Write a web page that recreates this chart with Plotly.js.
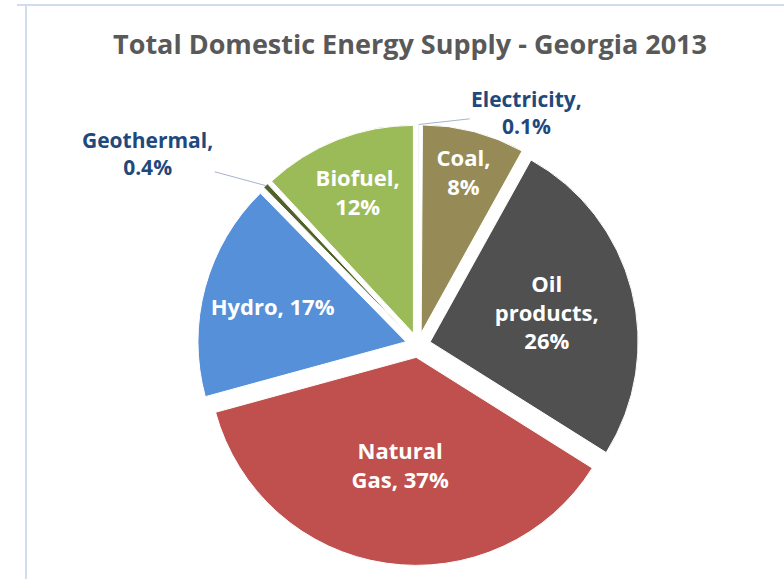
<!DOCTYPE html>
<html>
<head>
<meta charset="utf-8">
<script src="https://cdn.plot.ly/plotly-3.0.1.min.js"></script>
<style>html,body{margin:0;padding:0;background:#fff;}#chart{width:784px;height:579px;}</style>
</head>
<body>
<div id="chart"></div>
<script>
// ---- data ----
const categories = ["Electricity", "Coal", "Oil products", "Natural Gas", "Hydro", "Geothermal", "Biofuel"];
const values = [0.1, 8, 26, 37, 17, 0.4, 12];
const sliceLabels = ["", "Coal,<br>8%", "Oil<br>products,<br>26%", "Natural<br>Gas, 37%", "Hydro, 17%", "", "Biofuel,<br>12%"];
const outsideLabels = {0: "Electricity,<br>0.1%", 5: "Geothermal,<br>0.4%"};
const colors = ["#D9D9D9", "#968B56", "#505050", "#C0504D", "#5590D8", "#4F6228", "#9BBB59"];

// ---- layout geometry ----
const W = 784, H = 579;
const pull = 0.06;
const dom = {x: [197.5 / W, 638.5 / W], y: [(H - 565.5) / H, (H - 124.5) / H]};
const cx = (dom.x[0] + dom.x[1]) / 2 * W;
const cy = H - (dom.y[0] + dom.y[1]) / 2 * H;
const r = Math.min((dom.x[1] - dom.x[0]) * W, (dom.y[1] - dom.y[0]) * H) / (2 + 2 * pull);

const total = values.reduce((a, b) => a + b, 0);
function tipPoint(i) {
  let before = 0;
  for (let k = 0; k < i; k++) before += values[k];
  const mid = (before + values[i] / 2) / total * 2 * Math.PI;
  const rr = r * (1 + pull);
  return {x: (cx + rr * Math.sin(mid)) / W, y: 1 - (cy - rr * Math.cos(mid)) / H};
}
const FONT = "'Open Sans', 'Noto Sans', sans-serif";
const offsets = {0: [108, -12], 5: [-118, -32]};
const annotations = Object.keys(outsideLabels).map(k => {
  const p = tipPoint(+k);
  return {
    xref: "paper", yref: "paper", x: p.x, y: p.y,
    text: outsideLabels[k], showarrow: true, arrowhead: 0, arrowwidth: 1,
    arrowcolor: "#A6B4CC", ax: offsets[k][0], ay: offsets[k][1],
    font: {family: FONT, size: 21, color: "#1F497D", weight: "bold"},
    align: "center"
  };
});

const trace = {
  type: "pie",
  labels: categories,
  values: values,
  text: sliceLabels,
  textinfo: "text",
  textposition: "inside",
  insidetextorientation: "horizontal",
  insidetextfont: {family: FONT, size: 22, color: "#FFFFFF", weight: "bold"},
  sort: false,
  direction: "clockwise",
  rotation: 0,
  pull: values.map(() => pull),
  marker: {colors: colors, line: {color: "#FFFFFF", width: 1}},
  domain: dom,
  hoverinfo: "label+value"
};

const layout = {
  width: W, height: H,
  margin: {l: 0, r: 0, t: 0, b: 0},
  paper_bgcolor: "#FFFFFF",
  showlegend: false,
  title: {
    text: "Total Domestic Energy Supply - Georgia 2013",
    font: {family: FONT, size: 27, color: "#595959", weight: "bold"},
    x: 410 / W, xanchor: "center", y: 1 - 45 / H, yanchor: "middle"
  },
  annotations: annotations,
  shapes: [
    {type: "line", xref: "paper", yref: "paper", x0: 17 / W, x1: 1, y0: 1 - 5 / H, y1: 1 - 5 / H, line: {color: "#D3DCEE", width: 2}},
    {type: "line", xref: "paper", yref: "paper", x0: 26 / W, x1: 26 / W, y0: 0, y1: 1 - 5 / H, line: {color: "#D3DCEE", width: 2}}
  ]
};

Plotly.newPlot("chart", [trace], layout, {displayModeBar: false, staticPlot: true});
</script>
</body>
</html>
